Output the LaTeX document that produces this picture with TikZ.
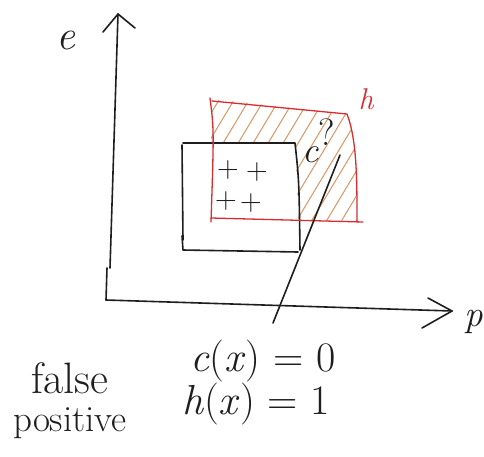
\documentclass[tikz,border=0pt]{standalone}
\usepackage{fontspec}
\setmainfont{Latin Modern Roman}
\definecolor{inkc}{RGB}{30,30,30}
\definecolor{redc}{RGB}{215,45,50}
\definecolor{hatchc}{RGB}{215,150,100}
\begin{document}
\begin{tikzpicture}[x=1pt,y=-1pt,line cap=round,line join=round,
  ink/.style={draw=inkc,line width=1.6pt},
  redink/.style={draw=redc,line width=1.3pt},
  hatch/.style={draw=hatchc,line width=1pt},
  lbl/.style={inner sep=0pt,text=inkc,font=\fontsize{37}{42}\selectfont},
  big/.style={inner sep=0pt,text=inkc,font=\fontsize{44}{48}\selectfont},
  eq/.style={inner sep=0pt,text=inkc,font=\fontsize{42}{48}\selectfont},
  small/.style={inner sep=0pt,text=inkc,font=\fontsize{30}{34}\selectfont}]
\fill[white] (0,0) rectangle (484,456);
\useasboundingbox (0,0) rectangle (484,456);
% axes
\coordinate (o) at (106,300);
\coordinate (ytop) at (118,14);
\coordinate (xend) at (452,311);
\draw[ink] (o) -- (107,268);
\draw[ink] (110,268) -- (ytop);
\draw[ink] (103,32) -- (ytop) -- (135,28);
\draw[ink] (o) -- (xend);
\draw[ink] (428,298) -- (xend) -- (422,328);
\node[eq] (e) at (66,40) {\textit{e}};
\node[lbl] (p) at (474,322) {\textit{p}};
% hatching
\begin{scope}
  \clip (211,99) -- (347,114) .. controls (357,140) and (357,180) .. (357,222) -- (211,219) -- cycle;
  \begin{scope}[even odd rule]
  \clip (0,0) rectangle (484,456) (182,143) -- (295,143) -- (300,252) -- (183,252) -- cycle;
  \foreach \i in {-6,...,13} {
    \draw[hatch] (180+\i*15,240) -- (180+\i*15+84,100);
  }
  \end{scope}
\end{scope}
% black rectangle (c)
\draw[ink] (182,145) -- (183,240);
\draw[ink] (182,236) -- (183,250) -- (298,252);
\draw[ink] (183,143) -- (295,143) .. controls (299,180) .. (300,250);
% red region (h)
\draw[redink] (210,98) .. controls (214,130) .. (211,222);
\draw[redink] (212,101) -- (347,114) .. controls (357,140) and (357,180) .. (357,222);
\draw[redink] (211,218) -- (363,222);
\node[inner sep=0pt,text=redc,font=\fontsize{30}{34}\selectfont\itshape] (h) at (366,99) {h};
\node[inner sep=0pt,text=inkc,font=\fontsize{38}{42}\selectfont] (q) at (327,132) {?};
\node[inner sep=0pt,text=inkc,font=\fontsize{36}{40}\selectfont] (c) at (311,155) {\textit{c}};
% positive examples
\node[small] (p1) at (228,170) {+};
\node[small] (p2) at (257,172) {+};
\node[small] (p3) at (226,201) {+};
\node[small] (p4) at (251,203) {+};
% pointer
\coordinate (ptop) at (340,155);
\coordinate (pbot) at (273,323);
\draw[ink] (ptop) -- (pbot);
% bottom labels
\node[big] (fa) at (70,378) {false};
\node[lbl] (po) at (70,423) {positive};
\node[eq] (cx) at (263,361) {\textit{c}(\textit{x}) = 0};
\node[eq] (hx) at (256,404) {\textit{h}(\textit{x}) = 1};
\end{tikzpicture}
\end{document}
